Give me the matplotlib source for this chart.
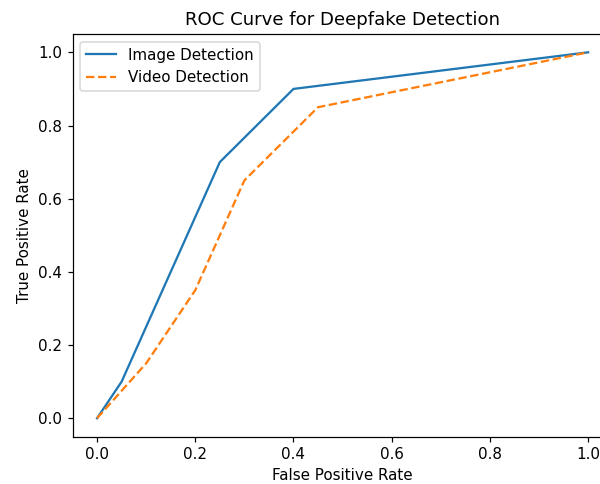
import matplotlib
matplotlib.use("Agg")
import matplotlib.pyplot as plt
from matplotlib.transforms import Bbox

# ROC points
fpr_image = [0.0, 0.05, 0.25, 0.4, 1.0]
tpr_image = [0.0, 0.1, 0.7, 0.9, 1.0]
fpr_video = [0.0, 0.1, 0.2, 0.3, 0.45, 1.0]
tpr_video = [0.0, 0.15, 0.35, 0.65, 0.85, 1.0]

# reference looks like a default 6.4x4.8 figure scaled up ~1.089 and cropped
dpi = 108.9
plt.figure(figsize=(6.4, 4.8), dpi=dpi)
plt.plot(fpr_image, tpr_image, label='Image Detection')
plt.plot(fpr_video, tpr_video, linestyle='--', label='Video Detection')
plt.xlabel('False Positive Rate')
plt.ylabel('True Positive Rate')
plt.title('ROC Curve for Deepfake Detection')
plt.legend(loc='upper left')

# crop: 14.6 px off the left, 28.7 px off the top
left = 14.6 / dpi
top = 4.8 - 28.7 / dpi
w = 600 / dpi
h = 484 / dpi
plt.savefig('out.png', dpi=dpi, bbox_inches=Bbox([[left, top - h], [left + w, top]]))
